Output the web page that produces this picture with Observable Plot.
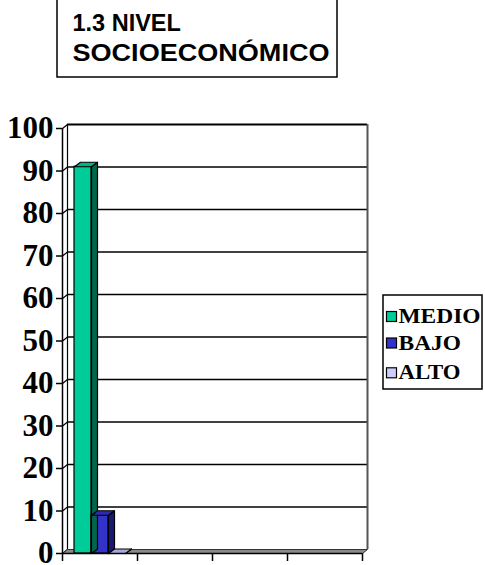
<!DOCTYPE html>
<html>
<head>
<meta charset="utf-8">
<script src="https://cdn.jsdelivr.net/npm/d3@7"></script>
<script src="https://cdn.jsdelivr.net/npm/@observablehq/plot@0.6"></script>
<style>
  body { margin: 0; background: #fff; }
  #chart { width: 485px; height: 565px; }
</style>
</head>
<body>
<div id="chart"></div>
<script>
// Socioeconomic level of respondents (%)
const categories = ["MEDIO", "BAJO", "ALTO"];
const values = [91, 9, 0];
const yTicks = [0, 10, 20, 30, 40, 50, 60, 70, 80, 90, 100];
const xTicks = [0, 1, 2, 3, 4];
const titleLines = ["1.3 NIVEL", "SOCIOECONÓMICO"];

// palette: front face, side face, top face
const frontColors = ["#00CC99", "#3333CC", "#CCCCFF"];
const sideColors  = ["#00664C", "#1A1A70", "#8C8CB8"];
const topColors   = ["#00B386", "#2B2BB0", "#A8A8D8"];

const W = 485, H = 565;
const mL = 62, mR = 123, mT = 128, mB = 12;
const xMax = xTicks[xTicks.length - 1];
const pxPerX = (W - mL - mR) / xMax;
const pxPerY = (H - mT - mB) / 100;
// 3-D depth expressed in data units (walls and columns)
const ddx = 5 / pxPerX;
const ddy = 4 / pxPerY;
const bdx = 6 / pxPerX;
const bdy = 4.5 / pxPerY;

// three columns share the first category slot
const pad = 0.16;
const bw = (1 - 2 * pad) / categories.length;
const bars = categories.map((c, i) => {
  const x0 = pad + i * bw, x1 = x0 + bw, v = values[i];
  return {c, i, x0, x1, v};
});

const poly = (pts, id) => pts.concat([pts[0]]).map(([x, y]) => ({x, y, id}));
const sides = bars.flatMap(b => poly([[b.x1, 0], [b.x1 + bdx, bdy], [b.x1 + bdx, b.v + bdy], [b.x1, b.v]], b.i));
const tops  = bars.flatMap(b => poly([[b.x0, b.v], [b.x0 + bdx, b.v + bdy], [b.x1 + bdx, b.v + bdy], [b.x1, b.v]], b.i));
const floor = poly([[0, 0], [xMax, 0], [xMax + ddx, ddy], [ddx, ddy]], 0);

const marks = [
  // back wall gridlines
  Plot.ruleY(yTicks.slice(1, -1), {y: d => d + ddy, x1: ddx, x2: xMax + ddx, stroke: "#000", strokeWidth: 1.3}),
  Plot.ruleY([100], {y: d => d + ddy, x1: ddx, x2: xMax + ddx, stroke: "#000", strokeWidth: 2}),
  // side wall diagonals
  Plot.link(yTicks, {x1: 0, y1: d => d, x2: ddx, y2: d => d + ddy, stroke: "#000", strokeWidth: 1.2}),
  // wall edges
  Plot.ruleX([ddx], {y1: ddy, y2: 100 + ddy, stroke: "#000", strokeWidth: 1.2}),
  Plot.ruleX([xMax + ddx], {y1: ddy, y2: 100 + ddy, stroke: "#555", strokeWidth: 2}),
  // floor
  Plot.line(floor, {x: "x", y: "y", z: "id", fill: "#8A8A8A", stroke: "#333", strokeWidth: 1}),
  // columns
  ...bars.map(b => Plot.rect([b], {x1: "x0", x2: "x1", y1: 0, y2: "v", fill: frontColors[b.i], stroke: "#000", strokeWidth: 1.2})),
  ...bars.map(b => Plot.line(sides.filter(p => p.id === b.i), {x: "x", y: "y", fill: sideColors[b.i], stroke: "#000", strokeWidth: 1.2})),
  ...bars.map(b => Plot.line(tops.filter(p => p.id === b.i), {x: "x", y: "y", fill: topColors[b.i], stroke: "#000", strokeWidth: 1.2})),
  // front axis lines
  Plot.ruleX([0], {y1: 0, y2: 100, stroke: "#000", strokeWidth: 1.5}),
  Plot.ruleY([0], {x1: 0, x2: xMax, stroke: "#000", strokeWidth: 1.5}),
  Plot.axisX({ticks: xTicks, tickFormat: () => "", tickSize: 8, strokeWidth: 1.5, label: null}),
  Plot.axisY({ticks: yTicks, tickSize: 6, tickPadding: 3, strokeWidth: 1.5, label: null,
    fontSize: 31, fontWeight: "bold", fontFamily: "Liberation Serif, Times New Roman, serif"})
];

const svg = Plot.plot({
  width: W, height: H,
  marginLeft: mL, marginRight: mR, marginTop: mT, marginBottom: mB,
  x: {domain: [0, xMax]},
  y: {domain: [0, 100]},
  style: {background: "#fff", color: "#000", overflow: "visible"},
  marks
});

// title box and legend drawn into the same SVG
const g = d3.select(svg).append("g").attr("text-anchor", "start");
g.append("rect").attr("x", 57).attr("y", -2).attr("width", 280).attr("height", 79)
  .attr("fill", "#fff").attr("stroke", "#000").attr("stroke-width", 1.5);
const titleW = [null, 257];
titleLines.forEach((t, i) => {
  const tx = g.append("text").attr("x", 72.5).attr("y", 30.7 + i * 30.3)
    .attr("text-anchor", "start")
    .attr("font-family", "Liberation Sans, Arial, sans-serif").attr("font-weight", "bold")
    .attr("font-size", 23.5).attr("fill", "#000")
    .text(t);
  if (titleW[i]) tx.attr("textLength", titleW[i]).attr("lengthAdjust", "spacingAndGlyphs");
});

const lg = g.append("g");
lg.append("rect").attr("x", 383).attr("y", 295).attr("width", 99).attr("height", 94)
  .attr("fill", "#fff").attr("stroke", "#000").attr("stroke-width", 1.5);
const legendRowY = [323, 349.5, 379.3];
const legendW = [82, 62.5, 62];
categories.forEach((c, i) => {
  lg.append("rect").attr("x", 386.5).attr("y", legendRowY[i] - 11.5).attr("width", 10).attr("height", 10)
    .attr("fill", frontColors[i]).attr("stroke", "#000").attr("stroke-width", 1.2);
  lg.append("text").attr("x", 398.5).attr("y", legendRowY[i])
    .attr("text-anchor", "start")
    .attr("font-family", "Liberation Serif, Times New Roman, serif").attr("font-weight", "bold")
    .attr("font-size", 20.5).attr("fill", "#000")
    .attr("textLength", legendW[i]).attr("lengthAdjust", "spacingAndGlyphs")
    .text(c);
});

document.getElementById("chart").appendChild(svg);
</script>
</body>
</html>
